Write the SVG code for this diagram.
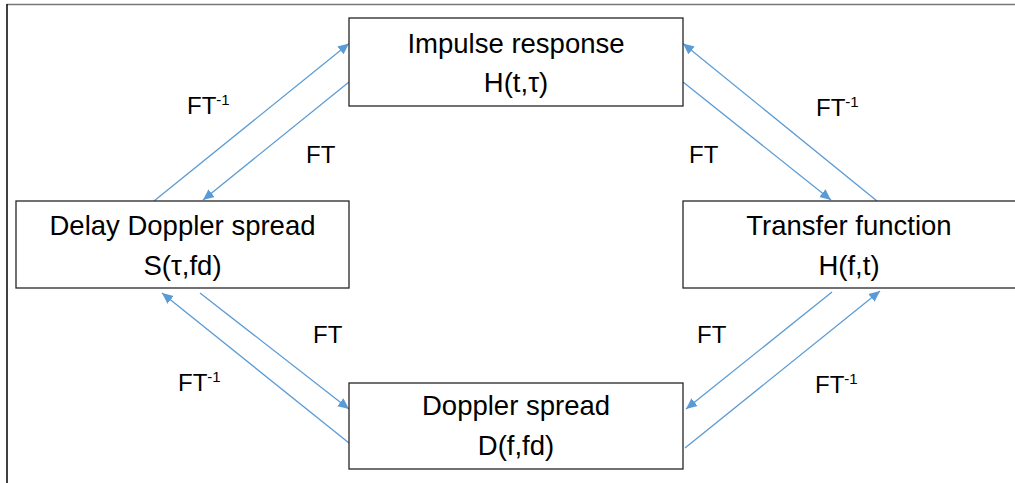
<svg xmlns="http://www.w3.org/2000/svg" width="1015" height="483" viewBox="0 0 1015 483">
<style>
.box{fill:#fff;stroke:#262626;stroke-width:1.3}
.t{font-family:"Liberation Sans",Arial,sans-serif;font-size:27.5px;fill:#000;text-anchor:middle}
.l{font-family:"Liberation Sans",Arial,sans-serif;font-size:24px;fill:#000}
.sup{font-size:15px}
.c{stroke:#5b9bd5;stroke-width:1.3;fill:none;marker-end:url(#ah)}
</style>
<defs>
<marker id="ah" viewBox="0 0 10 10" refX="10" refY="5" markerWidth="11" markerHeight="11" markerUnits="userSpaceOnUse" orient="auto">
<path d="M0,0.5 L10,5 L0,9.5 Z" fill="#5b9bd5"/>
</marker>
</defs>
<rect width="1015" height="483" fill="#fff"/>
<line x1="7" y1="4.5" x2="1015" y2="4.5" stroke="#777" stroke-width="1.6"/>
<line x1="7" y1="4" x2="7" y2="483" stroke="#111" stroke-width="1.6"/>
<g id="connectors">
<line class="c" x1="154" y1="201" x2="349" y2="43.5"/>
<line class="c" x1="349" y1="82" x2="203" y2="200"/>
<line class="c" x1="877" y1="201" x2="683" y2="43.5"/>
<line class="c" x1="683" y1="82" x2="831" y2="200"/>
<line class="c" x1="349" y1="443" x2="162" y2="293"/>
<line class="c" x1="200" y1="293" x2="349" y2="409"/>
<line class="c" x1="832" y1="292" x2="686" y2="409"/>
<line class="c" x1="685" y1="448" x2="880" y2="291"/>
</g>
<g id="labels">
<text class="l" x="187" y="114">FT<tspan class="sup" dy="-9">-1</tspan></text>
<text class="l" x="306" y="163">FT</text>
<text class="l" x="816" y="116">FT<tspan class="sup" dy="-9">-1</tspan></text>
<text class="l" x="689" y="163">FT</text>
<text class="l" x="313" y="343">FT</text>
<text class="l" x="178" y="391">FT<tspan class="sup" dy="-9">-1</tspan></text>
<text class="l" x="697" y="343">FT</text>
<text class="l" x="815" y="393">FT<tspan class="sup" dy="-9">-1</tspan></text>
</g>
<g id="impulse">
<rect class="box" x="349" y="18" width="334" height="88"/>
<text class="t" x="516" y="53">Impulse response</text>
<text class="t" x="516" y="92">H(t,τ)</text>
</g>
<g id="delaydoppler">
<rect class="box" x="16" y="201" width="333" height="87"/>
<text class="t" x="182.5" y="235">Delay Doppler spread</text>
<text class="t" x="182.5" y="275">S(τ,fd)</text>
</g>
<g id="transfer">
<rect class="box" x="683" y="201" width="340" height="87"/>
<text class="t" x="849" y="235">Transfer function</text>
<text class="t" x="849" y="275">H(f,t)</text>
</g>
<g id="doppler">
<rect class="box" x="349" y="383" width="334" height="86"/>
<text class="t" x="516" y="415">Doppler spread</text>
<text class="t" x="516" y="455">D(f,fd)</text>
</g>
</svg>
